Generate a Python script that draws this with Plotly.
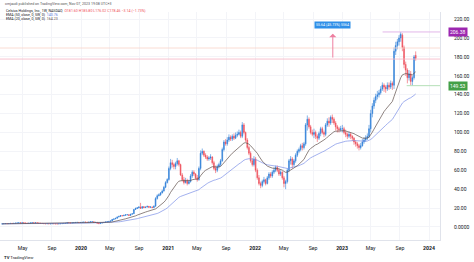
import pandas as pd
import plotly.graph_objects as go

# ---------------- data (weekly, from 2019-02-04) ----------------
start_week = "2019-02-04"

opens = [
    # 2019
    3.1, 3.3, 3.5, 3.6,  3.5, 3.6, 3.8, 3.7,  3.9, 4.1, 4.3, 4.4, 4.2,  4.5, 4.2, 4.0, 3.9,
    4.1, 4.3, 4.5, 4.2,  4.4, 4.2, 3.9, 3.8, 3.7,  3.5, 3.4, 3.5, 3.3,  3.4, 3.5, 3.4, 3.3, 3.2,
    3.4, 3.5, 3.6, 3.8,  3.9, 4.5, 4.3, 4.2,  4.4, 4.6, 4.8, 4.9, 4.7,
    # 2020
    4.8, 5.0, 5.2, 5.0,  4.9, 5.2, 5.5, 5.6,  4.8, 4.9, 4.0, 3.6, 4.2,  4.4, 4.8, 5.3, 5.5,
    5.9, 6.4, 8.0, 8.5,  9.2, 10.5, 11.2, 12.0, 11.8,  12.4, 12.8, 13.0, 12.2,
    13.5, 14.0, 18.5, 19.5, 20.2,  21.0, 19.8, 21.5, 20.5,  21.0, 21.8, 20.8, 21.2,
    20.5, 22.0, 30.0, 33.0, 34.0,  36.0, 38.0, 42.0, 47.0,
    # 2021
    50.3, 62, 68, 66,  64, 67, 70, 66,  55, 50, 47, 49, 46,  48, 54, 58, 56,
    52, 50, 62, 78, 80,  76, 74, 72, 73,  74, 68, 62, 60,  64, 66, 70, 82, 90,
    88, 92, 95, 93,  96, 94, 97, 98,  100, 96, 108, 100, 92,  84, 78, 70, 66,
    # 2022
    72, 60, 52, 46, 44,  48, 50, 46, 52,  56, 54, 58, 60,  63, 60, 56, 58,
    52, 46, 48, 60, 70,  72, 66, 70, 76,  80, 82, 86, 84,  88, 108, 114, 106, 100,
    98, 100, 96, 94,  99, 104, 100, 98, 108,  112, 110, 116, 114,  110, 106, 104, 103,
    # 2023
    104, 104, 100, 98, 96,  98, 96, 94, 90,  88, 86, 84, 86,  90, 92, 94, 96,
    104, 120, 128, 134, 138,  140, 142, 146, 150,  148, 146, 150, 148, 152,
    150, 186, 192, 196,  200, 203, 190, 172,  166, 158, 162, 154, 158,  181.6,
]

highs = [
    # 2019
    3.4, 3.6, 3.8, 3.7,  3.8, 3.9, 3.9, 4.0,  4.2, 4.4, 4.6, 4.5, 4.6,  4.6, 4.3, 4.1, 4.2,
    4.4, 4.6, 4.6, 4.5,  4.5, 4.3, 4.0, 3.9, 3.8,  3.6, 3.6, 3.6, 3.5,  3.6, 3.6, 3.5, 3.4, 3.5,
    3.6, 3.7, 3.9, 4.0,  4.7, 4.6, 4.4, 4.5,  4.7, 4.9, 5.1, 5.0, 4.9,
    # 2020
    5.2, 5.4, 5.3, 5.1,  5.4, 5.8, 5.9, 5.7,  5.2, 5.0, 4.2, 4.5, 4.7,  5.0, 5.5, 5.8, 6.1,
    6.8, 8.4, 8.9, 9.6,  11.0, 11.8, 12.6, 12.4, 12.8,  13.4, 13.6, 13.2, 13.8,
    14.5, 19.0, 20.5, 21.0, 22.0,  25.5, 22.0, 22.0, 21.5,  22.5, 22.2, 21.8, 21.5,
    22.8, 31.5, 34.5, 35.5, 37.0,  39.5, 43.5, 48.5, 51.5,
    # 2021
    64, 72, 71, 68,  69, 73, 71, 67,  57, 53, 52, 51, 50,  56, 60, 60, 57,
    55, 64, 81, 83, 81,  78, 76, 75, 77,  75, 70, 65, 66,  68, 72, 84, 92, 93,
    95, 98, 97, 98,  99, 100, 101, 103,  102, 111, 110, 101, 94,  86, 80, 73, 75,
    # 2022
    74, 62, 55, 48, 50,  53, 51, 54, 58,  58, 60, 63, 65,  65, 62, 60, 59,
    54, 50, 62, 72, 75,  74, 72, 78, 82,  84, 88, 89, 90,  110, 118, 116, 108, 103,
    104, 102, 98, 101,  106, 106, 102, 110, 115,  116, 118, 119, 116,  112, 108, 106, 107,
    # 2023
    108, 106, 103, 100, 101,  100, 97, 95, 92,  90, 88, 89, 93,  95, 97, 99, 108,
    124, 131, 137, 141, 144,  145, 149, 153, 152,  150, 153, 153, 155, 154,
    190, 196, 199, 203,  206.38, 205, 192, 175,  168, 166, 165, 160, 182,  185.8,
]

lows = [
    # 2019
    3.0, 3.2, 3.4, 3.4,  3.4, 3.5, 3.6, 3.6,  3.8, 4.0, 4.2, 4.1, 4.1,  4.1, 3.9, 3.8, 3.8,
    4.0, 4.2, 4.1, 4.1,  4.1, 3.8, 3.7, 3.6, 3.4,  3.3, 3.3, 3.2, 3.2,  3.3, 3.3, 3.2, 3.1, 3.1,
    3.3, 3.4, 3.5, 3.7,  3.8, 4.2, 4.1, 4.1,  4.3, 4.5, 4.7, 4.6, 4.6,
    # 2020
    4.7, 4.9, 4.9, 4.7,  4.8, 5.1, 5.3, 4.7,  4.5, 3.7, 3.0, 3.5, 4.0,  4.3, 4.7, 5.1, 5.4,
    5.8, 6.3, 7.8, 8.3,  9.0, 10.3, 11.0, 11.4, 11.5,  12.2, 12.5, 12.0, 12.0,
    13.2, 13.8, 18.0, 19.0, 19.8,  19.0, 19.5, 20.0, 20.2,  20.8, 20.5, 20.6, 20.0,
    20.0, 21.5, 29.0, 32.5, 33.0,  35.5, 37.5, 41.0, 46.0,
    # 2021
    49, 60, 63, 61,  61, 65, 64, 54,  48, 45, 46, 44, 45,  47, 52, 54, 50,
    48, 49, 60, 76, 74,  72, 70, 70, 71,  66, 60, 57, 58,  62, 64, 69, 80, 86,
    86, 90, 91, 91,  92, 93, 95, 97,  94, 94, 98, 90, 82,  76, 68, 64, 64,
    # 2022
    58, 50, 44, 41, 42,  46, 44, 45, 50,  52, 52, 56, 58,  58, 54, 54, 50,
    42, 40, 46, 58, 66,  62, 64, 68, 74,  78, 80, 81, 82,  86, 102, 104, 98, 96,
    94, 93, 90, 92,  96, 98, 95, 96, 106,  106, 108, 110, 108,  102, 100, 100, 101,
    # 2023
    100, 98, 95, 93, 94,  93, 91, 87, 85,  83, 81, 82, 85,  88, 90, 92, 94,
    100, 116, 125, 131, 135,  137, 140, 144, 143,  142, 144, 145, 146, 145,
    146, 182, 188, 192,  196, 186, 168, 160,  152, 155, 150, 149.53, 156,  176.0,
]

closes = [
    # 2019
    3.3, 3.5, 3.6, 3.5,  3.6, 3.8, 3.7, 3.9,  4.1, 4.3, 4.4, 4.2, 4.5,  4.2, 4.0, 3.9, 4.1,
    4.3, 4.5, 4.2, 4.4,  4.2, 3.9, 3.8, 3.7, 3.5,  3.4, 3.5, 3.3, 3.4,  3.5, 3.4, 3.3, 3.2, 3.4,
    3.5, 3.6, 3.8, 3.9,  4.5, 4.3, 4.2, 4.4,  4.6, 4.8, 4.9, 4.7, 4.8,
    # 2020
    5.0, 5.2, 5.0, 4.9,  5.2, 5.5, 5.6, 4.8,  4.9, 4.0, 3.6, 4.2, 4.4,  4.8, 5.3, 5.5, 5.9,
    6.4, 8.0, 8.5, 9.2,  10.5, 11.2, 12.0, 11.8, 12.4,  12.8, 13.0, 12.2, 13.5,
    14.0, 18.5, 19.5, 20.2, 21.0,  19.8, 21.5, 20.5, 21.0,  21.8, 20.8, 21.2, 20.5,
    22.0, 30.0, 33.0, 34.0, 36.0,  38.0, 42.0, 47.0, 50.3,
    # 2021
    62, 68, 66, 64,  67, 70, 66, 55,  50, 47, 49, 46, 48,  54, 58, 56, 52,
    50, 62, 78, 80, 76,  74, 72, 73, 74,  68, 62, 60, 64,  66, 70, 82, 90, 88,
    92, 95, 93, 96,  94, 97, 98, 100,  96, 108, 100, 92, 84,  78, 70, 66, 72,
    # 2022
    60, 52, 46, 44, 48,  50, 46, 52, 56,  54, 58, 60, 63,  60, 56, 58, 52,
    46, 48, 60, 70, 72,  66, 70, 76, 80,  82, 86, 84, 88,  108, 114, 106, 100, 98,
    100, 96, 94, 99,  104, 100, 98, 108, 112,  110, 116, 114, 110,  106, 104, 103, 104,
    # 2023
    104, 100, 98, 96, 98,  96, 94, 90, 88,  86, 84, 86, 90,  92, 94, 96, 104,
    120, 128, 134, 138, 140,  142, 146, 150, 148,  146, 150, 148, 152, 150,
    186, 192, 196, 200,  204, 190, 172, 166,  158, 162, 154, 158, 180,  178.46,
]

ema_fast_len = 20
ema_slow_len = 50

y_tick_vals = [0, 20, 40, 60, 80, 100, 120, 140, 160, 180, 200, 220]
y_tick_text = ["0.0000", "20.00", "40.00", "60.00", "80.00", "100.00", "120.00",
               "140.00", "160.00", "180.00", "200.00", "220.00"]

x_tick_vals = ["2019-05-01", "2019-09-01", "2020-01-01", "2020-05-01", "2020-09-01",
               "2021-01-01", "2021-05-01", "2021-09-01", "2022-01-01", "2022-05-01",
               "2022-09-01", "2023-01-01", "2023-05-01", "2023-09-01", "2024-01-01"]
x_tick_text = ["May", "Sep", "<b>2020</b>", "May", "Sep", "<b>2021</b>", "May", "Sep",
               "<b>2022</b>", "May", "Sep", "<b>2023</b>", "May", "Sep", "<b>2024</b>"]

ath_level = 206.38
low_level = 149.53
line_upper = 189.4
line_lower = 177.7

# ---------------- figure ----------------
dates = pd.date_range(start_week, periods=len(closes), freq="7D")
close_s = pd.Series(closes, index=dates)
ema_fast = close_s.ewm(span=ema_fast_len, adjust=False).mean()
ema_slow = close_s.ewm(span=ema_slow_len, adjust=False).mean()

UP = "#2f7fd8"
DOWN = "#ef4f5a"
FONT = "Roboto, 'Liberation Sans', Arial, sans-serif"

fig = go.Figure()
fig.add_trace(go.Candlestick(
    x=dates, open=opens, high=highs, low=lows, close=closes,
    increasing=dict(line=dict(color=UP, width=0.6), fillcolor=UP),
    decreasing=dict(line=dict(color=DOWN, width=0.6), fillcolor=DOWN),
    whiskerwidth=0, showlegend=False, hoverinfo="skip",
))
fig.add_trace(go.Scatter(x=dates, y=ema_slow, mode="lines",
                         line=dict(color="#7b8fe6", width=0.7), showlegend=False, hoverinfo="skip"))
fig.add_trace(go.Scatter(x=dates, y=ema_fast, mode="lines",
                         line=dict(color="#5e4f4a", width=0.7), showlegend=False, hoverinfo="skip"))

W, H = 474, 262
ML, MR, MT, MB = 0, 34, 12, 22
PW = W - ML - MR
PH = H - MT - MB


def px_x(xp):
    return (xp - ML) / PW


def px_y(yp):
    return (H - MB - yp) / PH


shapes = [
    dict(type="line", xref="paper", x0=0, x1=1, yref="y", y0=line_upper, y1=line_upper,
         line=dict(color="#f9d3c8", width=0.8)),
    dict(type="line", xref="paper", x0=0, x1=1, yref="y", y0=line_lower, y1=line_lower,
         line=dict(color="#f5b3c4", width=0.8)),
    dict(type="line", xref="x", x0="2023-06-20", x1="2024-02-16", yref="y",
         y0=ath_level, y1=ath_level, line=dict(color="#e2b6ea", width=1)),
    dict(type="line", xref="x", x0="2023-09-29", x1="2024-02-16", yref="y",
         y0=low_level, y1=low_level, line=dict(color="#b5dfb7", width=1)),
]

ohlc_txt = "O181.60 H185.80 L176.02 C178.46 −3.14 (−1.73%)"
annotations = [
    dict(xref="paper", yref="paper", x=px_x(3), y=px_y(3.5), xanchor="left", yanchor="middle",
         text="cmjaudi published on TradingView.com, Nov 07, 2023 19:08 UTC+3",
         showarrow=False, font=dict(size=3.6, color="#555", family=FONT)),
    dict(xref="paper", yref="paper", x=px_x(4), y=px_y(11), xanchor="left", yanchor="middle",
         text="Celsius Holdings, Inc., 1W, NASDAQ  <span style='color:#ef4f5a'>" + ohlc_txt + "</span>",
         showarrow=False, font=dict(size=3.6, color="#131722", family=FONT)),
    dict(xref="paper", yref="paper", x=px_x(4), y=px_y(15.2), xanchor="left", yanchor="middle",
         text="EMA (50, close, 0, 5W, 0)  <span style='color:#5a78e0'>%.2f</span>" % ema_slow.iloc[-1],
         showarrow=False, font=dict(size=3.6, color="#131722", family=FONT)),
    dict(xref="paper", yref="paper", x=px_x(4), y=px_y(19.4), xanchor="left", yanchor="middle",
         text="EMA (20, close, 0, 5W, 0)  <span style='color:#5e4f4a'>%.2f</span>" % ema_fast.iloc[-1],
         showarrow=False, font=dict(size=3.6, color="#131722", family=FONT)),
    # measurement arrow
    dict(xref="x", yref="y", x="2022-11-23", y=204.5, axref="x", ayref="y",
         ax="2022-11-23", ay=line_lower, showarrow=True, arrowhead=1, arrowsize=1.2,
         arrowwidth=1, arrowcolor="#ee7fa0", text=""),
    dict(xref="x", yref="y", x="2022-11-23", y=214.2, text="55.64 (45.73%) 5564",
         showarrow=False, bgcolor="#2f8fe8", borderpad=1,
         font=dict(size=3.6, color="white", family=FONT)),
    # price labels on scale
    dict(xref="paper", yref="y", x=px_x(448), y=ath_level, xanchor="left", yanchor="middle",
         text="206.38", showarrow=False, bgcolor="#9c27b0", borderpad=1,
         font=dict(size=5, color="white", family=FONT)),
    dict(xref="paper", yref="y", x=px_x(448), y=low_level, xanchor="left", yanchor="middle",
         text="149.53", showarrow=False, bgcolor="#43a047", borderpad=1,
         font=dict(size=5, color="white", family=FONT)),
    # logo
    dict(xref="paper", yref="paper", x=px_x(2), y=px_y(257.5), xanchor="left", yanchor="middle",
         text="<b>TV</b> TradingView", showarrow=False,
         font=dict(size=4.2, color="#131722", family=FONT)),
]

fig.update_layout(
    width=W, height=H,
    margin=dict(l=ML, r=MR, t=MT, b=MB),
    paper_bgcolor="white", plot_bgcolor="white",
    shapes=shapes, annotations=annotations,
    font=dict(family=FONT, color="#131722"),
    xaxis=dict(
        type="date", range=["2019-01-26", "2024-02-16"],
        rangeslider=dict(visible=False),
        tickvals=x_tick_vals, ticktext=x_tick_text,
        tickfont=dict(size=5.2, color="#131722", family=FONT),
        showgrid=True, gridcolor="#f3f4f8", gridwidth=0.5,
        showline=True, linecolor="#e0e3eb", linewidth=0.8,
        ticks="", zeroline=False, ticklabelstandoff=3,
    ),
    yaxis=dict(
        side="right", range=[-13.8, 227.5],
        tickvals=y_tick_vals, ticktext=y_tick_text,
        tickfont=dict(size=5, color="#131722", family=FONT),
        showgrid=True, gridcolor="#f3f4f8", gridwidth=0.5,
        showline=True, linecolor="#e0e3eb", linewidth=0.8,
        ticks="", zeroline=False, ticklabelstandoff=12,
    ),
)

fig.write_html("out.html")
